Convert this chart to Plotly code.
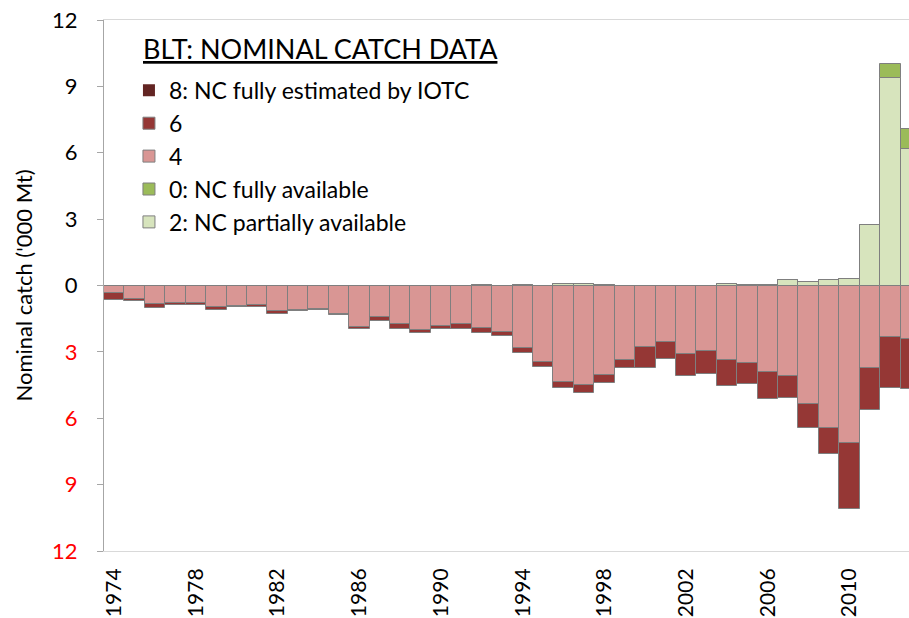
import plotly.graph_objects as go

years = list(range(1974, 2014))

# negative side (values shown below zero, '000 t)
nc4 = [0.35, 0.59, 0.84, 0.77, 0.81, 0.97, 0.92, 0.88, 1.16, 1.10,
       1.07, 1.27, 1.87, 1.41, 1.73, 2.00, 1.81, 1.75, 1.93, 2.10,
       2.84, 3.47, 4.36, 4.49, 4.06, 3.36, 2.76, 2.57, 3.09, 2.96,
       3.35, 3.51, 3.93, 4.07, 5.37, 6.46, 7.11, 3.74, 2.34, 2.41]
nc6 = [0.30, 0.13, 0.16, 0.12, 0.05, 0.13, 0.05, 0.09, 0.12, 0.03,
       0.03, 0.06, 0.11, 0.19, 0.23, 0.16, 0.17, 0.20, 0.20, 0.18,
       0.21, 0.23, 0.25, 0.35, 0.36, 0.38, 0.98, 0.75, 0.98, 1.02,
       1.17, 0.96, 1.22, 1.00, 1.09, 1.15, 2.97, 1.90, 2.29, 2.26]
nc8 = [0.0] * 40
# positive side
nc2 = [0.0, 0.0, 0.0, 0.0, 0.0, 0.0, 0.0, 0.0, 0.0, 0.0,
       0.0, 0.0, 0.0, 0.0, 0.0, 0.0, 0.0, 0.0, 0.03, 0.0,
       0.03, 0.0, 0.06, 0.06, 0.03, 0.0, 0.0, 0.0, 0.0, 0.0,
       0.05, 0.03, 0.03, 0.24, 0.16, 0.24, 0.28, 2.73, 9.38, 6.15]
nc0 = [0.0] * 37 + [0.0, 0.65, 0.91]

tick_years = list(range(1974, 2011, 4))
ytick_vals = [-12, -9, -6, -3, 0, 3, 6, 9, 12]
ytick_text = ['<span style="color:#FF0000">12</span>',
              '<span style="color:#FF0000">9</span>',
              '<span style="color:#FF0000">6</span>',
              '<span style="color:#FF0000">3</span>',
              '0', '3', '6', '9', '12']

FONT = "Lato"
edge = dict(color="#7F7F7F", width=1)

fig = go.Figure()
fig.add_bar(x=years, y=[-v for v in nc4], name="4", marker=dict(color="#D99694", line=edge),
            legendrank=3)
fig.add_bar(x=years, y=[-v for v in nc6], name="6", marker=dict(color="#953735", line=edge),
            legendrank=2)
fig.add_bar(x=years, y=[-v for v in nc8], name="8: NC fully estimated by IOTC",
            marker=dict(color="#632523", line=dict(color="#4a1a19", width=0)),
            legendrank=1)
fig.add_bar(x=years, y=nc2, name="2: NC partially available", marker=dict(color="#D7E4BD", line=edge),
            legendrank=5)
fig.add_bar(x=years, y=nc0, name="0: NC fully available", marker=dict(color="#9BBB59", line=edge),
            legendrank=4)

fig.update_layout(
    width=909, height=618,
    barmode="relative", bargap=0,
    plot_bgcolor="white", paper_bgcolor="white",
    margin=dict(l=104, r=0, t=20, b=67, autoexpand=False),
    font=dict(family=FONT, color="#000000", size=19),
    showlegend=True,
    legend=dict(x=0.031, y=0.908, xanchor="left", yanchor="top",
                bgcolor="rgba(0,0,0,0)", font=dict(size=23, family=FONT),
                itemwidth=30),
    annotations=[
        dict(text="<u>BLT: NOMINAL CATCH DATA</u>", xref="paper", yref="paper",
             x=0.046, y=0.981, xanchor="left", yanchor="top", showarrow=False,
             font=dict(size=27, family=FONT)),
        dict(text="Nominal catch ('000 Mt)", xref="paper", yref="paper",
             x=-0.1006, y=0.5, xanchor="center", yanchor="middle", showarrow=False,
             textangle=-90, font=dict(size=22, family=FONT)),
    ],
)
fig.update_xaxes(range=[1973.5, 2012.91], tickmode="array", tickvals=tick_years,
                 ticktext=[str(t) for t in tick_years], tickangle=-90, ticks="",
                 showgrid=False, zeroline=False, showline=True, linecolor="#D9D9D9",
                 linewidth=1, mirror=True, tickfont=dict(size=21), ticklabelstandoff=8,
                 automargin=False)
fig.update_yaxes(range=[-12, 12], tickmode="array", tickvals=ytick_vals, ticktext=ytick_text,
                 ticks="outside", ticklen=6, tickcolor="#A6A6A6", showgrid=False,
                 showline=True, linecolor="#A6A6A6", linewidth=1,
                 zeroline=True, zerolinecolor="#808080", zerolinewidth=1,
                 tickfont=dict(size=22), ticklabelstandoff=15, automargin=False)

fig.write_html("out.html", config={"displayModeBar": False},
               post_script="document.body.style.margin='0';document.body.style.overflow='hidden';")
